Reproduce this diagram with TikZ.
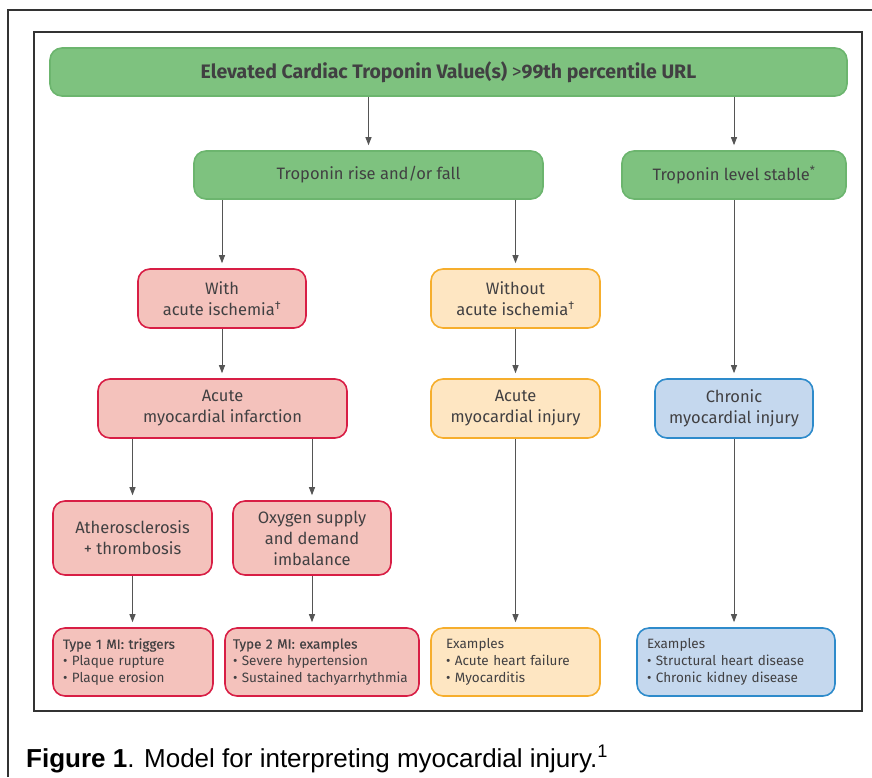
\documentclass[tikz,border=0pt]{standalone}
\usepackage{fontspec}
\setmainfont{Fira Sans}
\newfontfamily\capfont{Liberation Sans}
\newfontfamily\medfont[FakeBold=0.35]{Fira Sans}
\usetikzlibrary{arrows.meta}
\hyphenpenalty=10000
\exhyphenpenalty=10000
\definecolor{txt}{HTML}{414042}
\definecolor{gfill}{HTML}{7EC27F}
\definecolor{gdraw}{HTML}{6CB56E}
\definecolor{rfill}{HTML}{F4C2BC}
\definecolor{rdraw}{HTML}{D81E45}
\definecolor{ofill}{HTML}{FEE6C2}
\definecolor{odraw}{HTML}{F6AE2D}
\definecolor{bfill}{HTML}{C5D8EE}
\definecolor{bdraw}{HTML}{2E8BCB}
\definecolor{arr}{HTML}{555555}
\definecolor{frame}{HTML}{333333}
\begin{document}
\begin{tikzpicture}[x=1pt,y=-1pt,
 box/.style={rounded corners=12pt, line width=1.6pt, inner sep=0pt, align=center, text=txt, font=\fontsize{16.5}{21}\selectfont},
 gbox/.style={box, fill=gfill, draw=gdraw, minimum height=48pt},
 rbox/.style={box, fill=rfill, draw=rdraw},
 obox/.style={box, fill=ofill, draw=odraw},
 bbox/.style={box, fill=bfill, draw=bdraw},
 listbox/.style={align=left, minimum height=68pt, font=\fontsize{13.5}{17}\selectfont},
 arrow/.style={draw=arr, line width=0.9pt, shorten >=5pt, -{Triangle[length=8pt,width=6pt]}}
]
\useasboundingbox (0,0) rectangle (872,777);
\draw[line width=1.3pt, frame] (8,777) -- (8,10) -- (872,10);
\draw[line width=1.5pt, frame] (34,32) rectangle (862,711);

\node[gbox, minimum width=797pt, font=\bfseries\fontsize{19.5}{22}\selectfont] (top) at (448.5,72) {Elevated Cardiac Troponin Value(s) {\mdseries >}99th percentile URL};
\node[gbox, minimum width=349pt] (rise) at (368.5,175) {Troponin rise and/or fall};
\node[gbox, minimum width=224pt] (stable) at (734,175) {Troponin level stable\textsuperscript{*}};

\node[rbox, minimum width=168pt, minimum height=59pt] (with) at (222,298.5) {With\\acute ischemia\textsuperscript{†}};
\node[obox, minimum width=169pt, minimum height=59pt] (without) at (515.5,298.5) {Without\\acute ischemia\textsuperscript{†}};

\node[rbox, minimum width=249pt, minimum height=59pt] (ami) at (222.5,408.5) {Acute\\myocardial infarction};
\node[obox, minimum width=169pt, minimum height=59pt] (acinj) at (515.5,408.5) {Acute\\myocardial injury};
\node[bbox, minimum width=158pt, minimum height=59pt] (chr) at (734,408.5) {Chronic\\myocardial injury};

\node[rbox, minimum width=159pt, minimum height=74pt] (ath) at (132.5,538) {Atherosclerosis\\+ thrombosis};
\node[rbox, minimum width=158pt, minimum height=74pt] (oxy) at (312,538) {Oxygen supply\\and demand\\imbalance};

\node[rbox, listbox, text width=140pt, inner xsep=10pt] (t1) at (133,662) {{\medfont Type 1 MI: triggers}\\• Plaque rupture\\• Plaque erosion};
\node[rbox, listbox, text width=178pt, inner xsep=8pt] (t2) at (322,662) {{\medfont Type 2 MI: examples}\\• Severe hypertension\\• Sustained tachyarrhythmia};
\node[obox, listbox, text width=139pt, inner xsep=15pt] (ex1) at (515.5,662) {Examples\\• Acute heart failure\\• Myocarditis};
\node[bbox, listbox, text width=178pt, inner xsep=10pt] (ex2) at (736,662) {Examples\\• Structural heart disease\\• Chronic kidney disease};

\draw[arrow] (rise.north |- top.south) -- (rise.north);
\draw[arrow] (stable.north |- top.south) -- (stable.north);
\draw[arrow] (with.north |- rise.south) -- (with.north);
\draw[arrow] (without.north |- rise.south) -- (without.north);
\draw[arrow] (with.south) -- (with.south |- ami.north);
\draw[arrow] (without.south) -- (without.south |- acinj.north);
\draw[arrow] (stable.south) -- (stable.south |- chr.north);
\draw[arrow] (ath.north |- ami.south) -- (ath.north);
\draw[arrow] (oxy.north |- ami.south) -- (oxy.north);
\draw[arrow] (ath.south) -- (ath.south |- t1.north);
\draw[arrow] (oxy.south) -- (oxy.south |- t2.north);
\draw[arrow] (acinj.south) -- (acinj.south |- ex1.north);
\draw[arrow] (chr.south) -- (chr.south |- ex2.north);

\node[anchor=base west, inner sep=0pt, font=\capfont\fontsize{26}{30}\selectfont] (cap) at (26,767) {\textbf{Figure 1}. Model for interpreting myocardial injury.\textsuperscript{1}};
\end{tikzpicture}
\end{document}
